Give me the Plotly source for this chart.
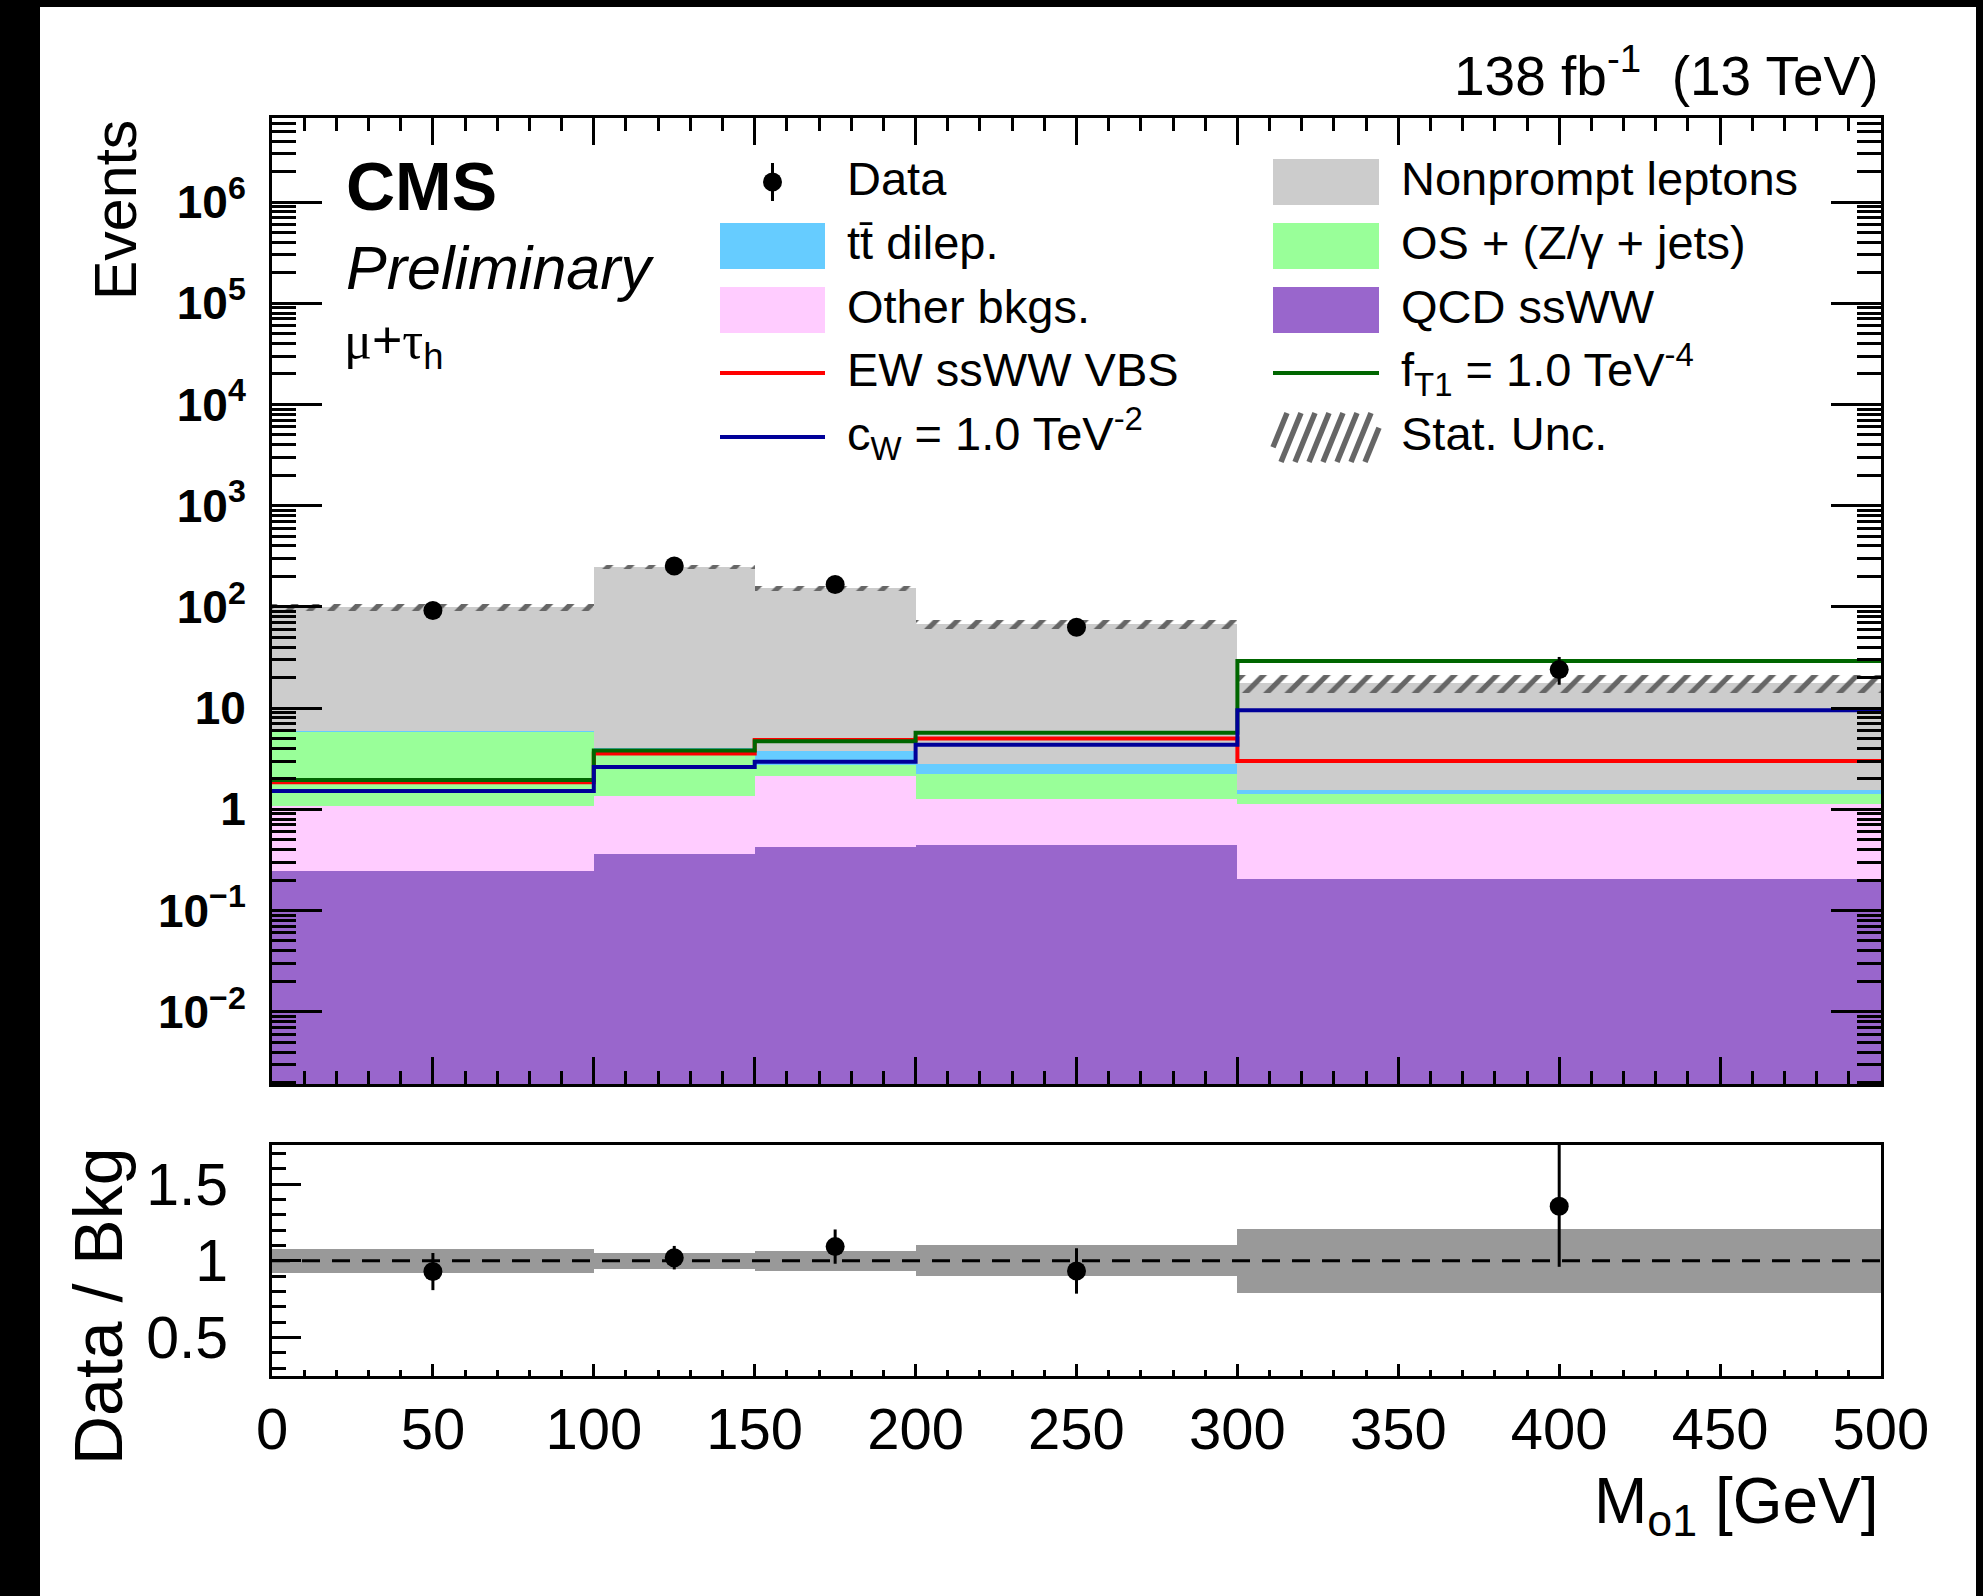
import numpy as np
import plotly.graph_objects as go

# ---- binning of M_o1 [GeV] ----
bin_edges = [0, 100, 150, 200, 300, 500]

# ---- stacked backgrounds (events per bin), bottom to top ----
qcd_ssww = [0.247, 0.359, 0.421, 0.441, 0.203]
other_bkgs = [0.84, 0.99, 1.73, 0.81, 0.92]
os_zjets = [4.80, 2.65, 0.59, 0.98, 0.30]
ttbar_dilep = [0.11, 0.05, 1.05, 0.57, 0.13]
nonprompt = [93.0, 244.0, 148.2, 64.7, 16.15]
stat_unc = [7.7, 12.9, 9.9, 6.8, 3.7]

# ---- overlaid signal hypotheses ----
ew_ssww = [1.85, 3.55, 4.85, 5.0, 3.0]
ft1 = [1.95, 3.8, 4.7, 5.7, 29.2]
cw = [1.52, 2.62, 2.95, 4.35, 9.5]

# ---- observed data ----
data = [92, 253, 166, 63, 24]
data_err_up = [12, 19, 17, 10, 8]
data_err_down = [12, 19, 17, 10, 7]

# axis tick labels
y_major_vals = [1e-2, 1e-1, 1, 10, 1e2, 1e3, 1e4, 1e5, 1e6]
y_major_text = ["10<sup>\u22122</sup>", "10<sup>\u22121</sup>", "1", "10", "10<sup>2</sup>",
                "10<sup>3</sup>", "10<sup>4</sup>", "10<sup>5</sup>", "10<sup>6</sup>"]
ratio_tick_vals = [0.5, 1.0, 1.5]
ratio_tick_text = ["0.5", "1", "1.5"]

# colours
C_QCD = "#9966cc"
C_OTHER = "#ffccff"
C_OS = "#99ff99"
C_TT = "#66ccff"
C_NP = "#cccccc"
C_EW = "#ff0000"
C_FT1 = "#006600"
C_CW = "#000099"
C_HATCH = "#666666"
C_BAND = "#999999"
FONT = "Liberation Sans"

edges = np.array(bin_edges, dtype=float)
centers = 0.5 * (edges[1:] + edges[:-1])
widths = edges[1:] - edges[:-1]

components = [
    (qcd_ssww, C_QCD),
    (other_bkgs, C_OTHER),
    (os_zjets, C_OS),
    (ttbar_dilep, C_TT),
    (nonprompt, C_NP),
]

fig = go.Figure()

# stacked histogram, drawn as bars with explicit bases on the log axis
base = np.full(len(centers), 1e-4)
for vals, col in components:
    v = np.array(vals, dtype=float)
    fig.add_trace(go.Bar(x=centers, y=v, base=base, width=widths,
                         marker=dict(color=col, line=dict(width=0)),
                         xaxis="x", yaxis="y", hoverinfo="skip"))
    base = base + v if base[0] > 1e-3 else v.copy()
total = base

# statistical uncertainty, hatched band around the total
su = np.array(stat_unc, dtype=float)
fig.add_trace(go.Bar(x=centers, y=2 * su, base=total - su, width=widths,
                     marker=dict(color="rgba(0,0,0,0)", line=dict(width=0),
                                 pattern=dict(shape="/", fgcolor=C_HATCH,
                                              bgcolor="rgba(0,0,0,0)",
                                              size=15, solidity=0.35,
                                              fillmode="replace")),
                     xaxis="x", yaxis="y", hoverinfo="skip"))


def step(vals):
    return list(vals) + [vals[-1]]


for vals, col in [(ew_ssww, C_EW), (ft1, C_FT1), (cw, C_CW)]:
    fig.add_trace(go.Scatter(x=bin_edges, y=step(vals), mode="lines",
                             line=dict(color=col, width=4, shape="hv"),
                             xaxis="x", yaxis="y", hoverinfo="skip"))

fig.add_trace(go.Scatter(x=centers, y=data, mode="markers",
                         marker=dict(color="black", size=19),
                         error_y=dict(type="data", array=data_err_up,
                                      arrayminus=data_err_down, color="black",
                                      thickness=3, width=0),
                         xaxis="x", yaxis="y", hoverinfo="skip"))

# ---- ratio panel ----
rel = su / total
fig.add_trace(go.Bar(x=centers, y=2 * rel, base=1 - rel, width=widths,
                     marker=dict(color=C_BAND, line=dict(width=0)),
                     xaxis="x2", yaxis="y2", hoverinfo="skip"))
fig.add_trace(go.Scatter(x=[bin_edges[0], bin_edges[-1]], y=[1, 1], mode="lines",
                         line=dict(color="black", width=3, dash="18px,12px"),
                         xaxis="x2", yaxis="y2", hoverinfo="skip"))
d = np.array(data, dtype=float)
fig.add_trace(go.Scatter(x=centers, y=d / total, mode="markers",
                         marker=dict(color="black", size=19),
                         error_y=dict(type="data",
                                      array=np.array(data_err_up) / total,
                                      arrayminus=np.array(data_err_down) / total,
                                      color="black", thickness=3, width=0),
                         xaxis="x2", yaxis="y2", hoverinfo="skip"))

# ---- layout geometry (pixels) ----
W, H = 1983, 1596
L, R, T, B = 272, 102, 118, 220
PW, PH = W - L - R, H - T - B


def px_x(px):
    return (px - L) / PW


def px_y(py):
    return (H - B - py) / PH


main_dom = [px_y(1084), 1.0]
ratio_dom = [0.0, px_y(1145)]

y_minor = [m * 10.0 ** k for k in range(-3, 7) for m in range(2, 10)]
ratio_minor = [round(0.3 + 0.1 * i, 2) for i in range(15)]

axis_common = dict(showgrid=False, zeroline=False, showline=True,
                   linecolor="black", linewidth=3, ticks="inside",
                   tickcolor="black", tickwidth=2.5)

fig.update_layout(
    width=W, height=H,
    margin=dict(l=L, r=R, t=T, b=B, pad=0),
    paper_bgcolor="black", plot_bgcolor="white",
    showlegend=False, barmode="overlay", bargap=0,
    font=dict(family=FONT, color="black"),
    xaxis=dict(**axis_common, domain=[0, 1], anchor="y", range=[0, 500],
               tickmode="linear", tick0=0, dtick=50, ticklen=27,
               showticklabels=False, mirror="allticks",
               minor=dict(ticks="inside", tickmode="linear", tick0=0, dtick=10,
                          ticklen=13, tickwidth=2.5, tickcolor="black", showgrid=False)),
    yaxis=dict(**axis_common, domain=main_dom, anchor="x", type="log",
               range=[-2.714, 6.83], tickmode="array",
               tickvals=y_major_vals, ticktext=["<b>" + t + "</b>" for t in y_major_text],
               ticklen=50, mirror="allticks", ticklabelstandoff=14,
               tickfont=dict(size=46, family=FONT),
               minor=dict(ticks="inside", tickmode="array", tickvals=y_minor,
                          ticklen=24, tickwidth=2.5, tickcolor="black", showgrid=False)),
    xaxis2=dict(**axis_common, domain=[0, 1], anchor="y2", range=[0, 500],
                matches="x", tickmode="linear", tick0=0, dtick=50, ticklen=12,
                mirror=True, ticklabelstandoff=0,
                tickfont=dict(size=58, family=FONT),
                minor=dict(ticks="inside", tickmode="linear", tick0=0, dtick=10,
                           ticklen=6, tickwidth=2.5, tickcolor="black", showgrid=False)),
    yaxis2=dict(**axis_common, domain=ratio_dom, anchor="x2", range=[0.248, 1.755],
                tickmode="array", tickvals=ratio_tick_vals, ticktext=ratio_tick_text,
                ticklen=29, mirror=True, ticklabelstandoff=29,
                tickfont=dict(size=59, family=FONT),
                minor=dict(ticks="inside", tickmode="array", tickvals=ratio_minor,
                           ticklen=14, tickwidth=2.5, tickcolor="black", showgrid=False)),
)

shapes = []
# white canvas inside the dark frame
shapes.append(dict(type="rect", xref="paper", yref="paper", layer="below",
                   x0=px_x(40), x1=px_x(1976), y0=px_y(H + 5), y1=px_y(7),
                   fillcolor="white", line=dict(width=0)))

annotations = []


def text(px, py, s, size, xanchor="left", yanchor="middle", angle=0, **kw):
    annotations.append(dict(x=px_x(px), y=px_y(py), xref="paper", yref="paper",
                            text=s, showarrow=False, xanchor=xanchor,
                            yanchor=yanchor, textangle=angle,
                            font=dict(size=size, family=FONT, color="black", **kw)))


# ---- titles and labels ----
text(116, 118, "Events", 59, xanchor="center", yanchor="top", angle=-90)
text(98, 1145, "Data / Bkg", 68, xanchor="center", yanchor="top", angle=-90)
text(1881, 1505, "M<sub>o1</sub> [GeV]", 64, xanchor="right")
text(1881, 72, "138 fb<sup>-1</sup>  (13 TeV)", 55, xanchor="right")
text(344, 186, "<b>CMS</b>", 68)
text(344, 268, "<i>Preliminary</i>", 61)
text(342, 344,
     "<span style='font-family:Liberation Serif'>\u03bc</span>+"
     "<span style='font-family:Liberation Serif'>\u03c4</span><sub>h</sub>", 52)

# ---- legend ----
rows = [182, 246, 310, 373, 437]
lx0, lx1, ltx = 720, 825, 845
rx0, rx1, rtx = 1273, 1379, 1399
box_half = 23
LEG = 47
ty = -4  # text baseline offset relative to the swatch centre


def box(x0, x1, yc, col):
    shapes.append(dict(type="rect", xref="paper", yref="paper",
                       x0=px_x(x0), x1=px_x(x1), y0=px_y(yc + box_half),
                       y1=px_y(yc - box_half), fillcolor=col, line=dict(width=0)))


def hline(x0, x1, yc, col):
    shapes.append(dict(type="line", xref="paper", yref="paper",
                       x0=px_x(x0), x1=px_x(x1), y0=px_y(yc), y1=px_y(yc),
                       line=dict(color=col, width=4)))


# Data entry: marker with error bar
xc = 0.5 * (lx0 + lx1)
shapes.append(dict(type="line", xref="paper", yref="paper",
                   x0=px_x(xc), x1=px_x(xc), y0=px_y(rows[0] + 19), y1=px_y(rows[0] - 19),
                   line=dict(color="black", width=3)))
shapes.append(dict(type="circle", xref="paper", yref="paper",
                   x0=px_x(xc - 9.5), x1=px_x(xc + 9.5),
                   y0=px_y(rows[0] + 9.5), y1=px_y(rows[0] - 9.5),
                   fillcolor="black", line=dict(width=0)))
text(ltx, rows[0] + ty, "Data", LEG)

box(lx0, lx1, rows[1], C_TT)
text(ltx, rows[1] + ty, "tt\u0304 dilep.", LEG)
box(lx0, lx1, rows[2], C_OTHER)
text(ltx, rows[2] + ty, "Other bkgs.", LEG)
hline(lx0, lx1, rows[3], C_EW)
text(ltx, rows[3] + ty, "EW ssWW VBS", LEG)
hline(lx0, lx1, rows[4], C_CW)
text(ltx, rows[4] + ty, "c<sub>W</sub> = 1.0 TeV<sup>-2</sup>", LEG)

box(rx0, rx1, rows[0], C_NP)
text(rtx, rows[0] + ty, "Nonprompt leptons", LEG)
box(rx0, rx1, rows[1], C_OS)
text(rtx, rows[1] + ty, "OS + (Z/\u03b3 + jets)", LEG)
box(rx0, rx1, rows[2], C_QCD)
text(rtx, rows[2] + ty, "QCD ssWW", LEG)
hline(rx0, rx1, rows[3], C_FT1)
text(rtx, rows[3] + ty, "f<sub>T1</sub> = 1.0 TeV<sup>-4</sup>", LEG)

# hatched swatch for the statistical uncertainty
hy0, hy1 = rows[4] - 24, rows[4] + 25
dx, gap = 20.0, 14.0
xb = rx0 - dx
while xb < rx1:
    t0 = max(0.0, (rx0 - xb) / dx)
    t1 = min(1.0, (rx1 - xb) / dx)
    if t1 > t0:
        shapes.append(dict(type="line", xref="paper", yref="paper",
                           x0=px_x(xb + dx * t0), x1=px_x(xb + dx * t1),
                           y0=px_y(hy1 - (hy1 - hy0) * t0), y1=px_y(hy1 - (hy1 - hy0) * t1),
                           line=dict(color=C_HATCH, width=5.5)))
    xb += gap
text(rtx, rows[4] + ty, "Stat. Unc.", LEG)

fig.update_layout(shapes=shapes, annotations=annotations)
fig.write_html("out.html")
